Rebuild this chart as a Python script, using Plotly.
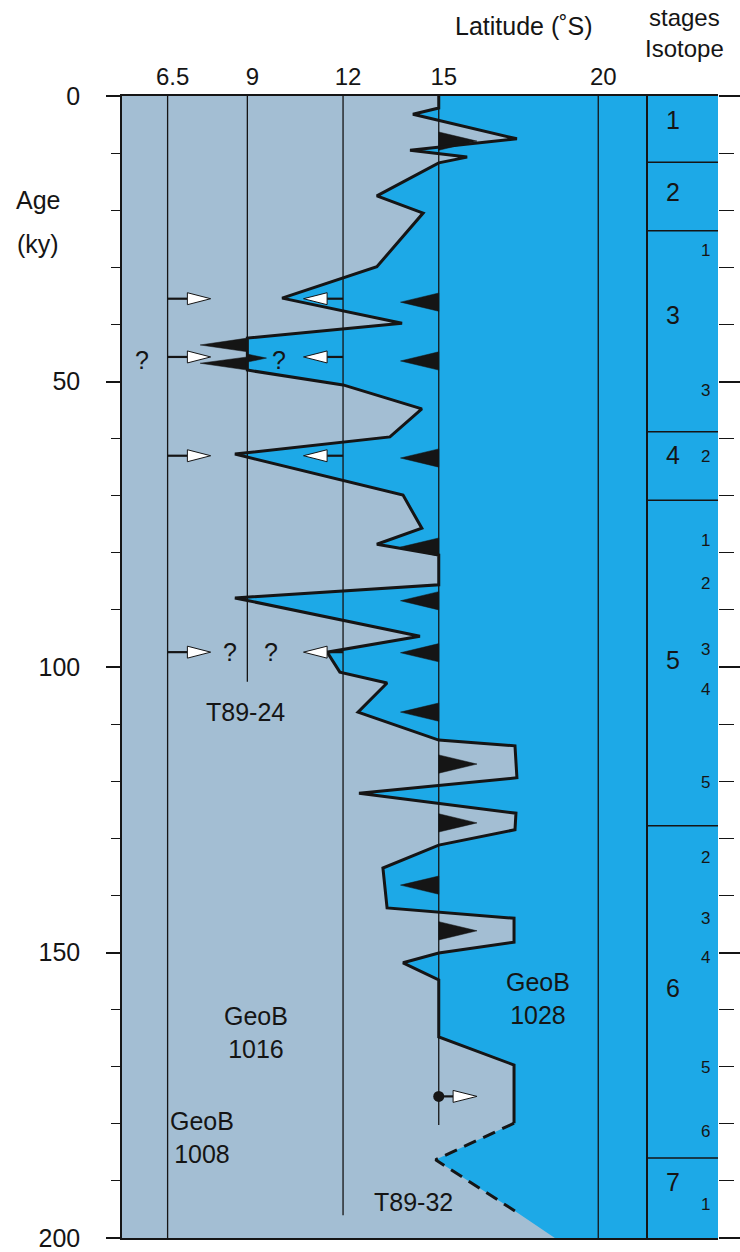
import plotly.graph_objects as go

W, H = 740, 1252

# ---------------- data ----------------
# Boundary between the light (GeoB 1008/1016) field and the blue (GeoB 1028) field
BOUNDARY_LAT = [15.0, 15.0, 14.19, 17.45, 14.10, 15.89, 15.0, 13.06, 14.51, 13.06, 10.09, 13.85,
                9.0, 9.0, 12.0, 14.47, 13.47, 8.61, 13.88, 14.47, 13.06, 15.0, 15.0, 8.61, 14.41,
                11.50, 11.90, 13.38, 12.47, 15.0, 17.39, 17.45, 12.50, 17.42, 17.39, 15.0, 13.25,
                13.38, 17.36, 17.36, 15.0, 13.88, 15.0, 15.0, 17.36, 17.36]
BOUNDARY_AGE = [0, 2.1, 3.2, 7.5, 9.5, 10.7, 11.7, 17.5, 20.5, 29.9, 35.4, 39.8,
                42.4, 48.0, 50.6, 54.8, 59.7, 62.7, 69.9, 75.7, 78.5, 80.4, 85.6, 87.9, 94.6,
                97.4, 100.9, 102.8, 107.9, 112.8, 113.8, 119.4, 122.1, 125.6, 128.5, 131.2, 135.2,
                142.2, 144.0, 148.2, 150.1, 151.8, 154.8, 164.8, 169.7, 179.9]
DASHED_LAT = [17.36, 14.9, 17.48]
DASHED_AGE = [179.9, 186.3, 195.6]
TAIL_LAT = [18.64]
TAIL_AGE = [200]

# core sites (vertical lines) and their lengths
SITE_LAT = [6.5, 9, 12, 15, 20]
SITE_END_AGE = [200, 102.6, 196.0, 180.2, 200]
LAT_TICKS = [6.5, 9, 12, 15, 20]
LAT_TICK_TEXT = ["6.5", "9", "12", "15", "20"]

# black triangles on the 15° line (+1 = pointing right, -1 = left)
BLACK_TRI_AGE = [7.9, 36.1, 46.4, 63.4, 79.0, 88.4, 97.5, 107.9, 117.0, 127.3, 138.2, 146.2]
BLACK_TRI_DIR = [1, -1, -1, -1, -1, -1, -1, -1, 1, 1, -1, 1]
# black wedges at the 9° line (T89-24): top, bottom, tip age, tip latitude
WEDGE_TOP = [42.4, 45.7, 45.2]
WEDGE_BOT = [44.8, 48.0, 46.6]
WEDGE_TIP_AGE = [43.6, 46.8, 45.9]
WEDGE_TIP_LAT = [7.52, 7.52, 9.6]

# white arrows
ARROW_AGE = [35.5, 45.7, 63.0, 97.4]
DOT_ARROW_AGE = [175.2]
QMARK_LAT = [5.7, 10.0, 8.45, 9.75]
QMARK_AGE = [46.2, 46.2, 97.4, 97.4]

AGE_TICKS = [0, 50, 100, 150, 200]
AGE_MINOR = list(range(0, 201, 10))

# isotope stages
STAGE_BOUNDS = [11.6, 23.6, 58.8, 70.8, 127.8, 186.0]
STAGE_LABELS = ["1", "2", "3", "4", "5", "6", "7"]
STAGE_LABEL_AGE = [4.2, 16.8, 38.4, 62.9, 98.8, 156.2, 190.2]
SUB_LABELS = ["1", "3", "2", "1", "2", "3", "4", "5", "2", "3", "4", "5", "6", "1"]
SUB_AGE = [27.0, 51.5, 63.2, 77.8, 85.3, 97.0, 104.0, 120.3, 133.3, 144.0, 150.8, 170.1, 181.4, 194.2]

# ---------------- layout geometry ----------------
PX_PER_LAT = 31.9
LAT_OFF = -39.75
LAT_MIN = (122 - LAT_OFF) / PX_PER_LAT
LAT_MAX = (646 - LAT_OFF) / PX_PER_LAT

LIGHT = "#A3BED3"
BLUE = "#1DA9E7"
INK = "#151515"
FONT = "Liberation Sans"

fig = go.Figure()

# blue field
fx = BOUNDARY_LAT + DASHED_LAT[1:] + TAIL_LAT + [LAT_MAX, LAT_MAX]
fy = BOUNDARY_AGE + DASHED_AGE[1:] + TAIL_AGE + [200, 0]
fig.add_trace(go.Scatter(x=fx, y=fy, fill="toself", fillcolor=BLUE, mode="none",
                         hoverinfo="skip"))

# site lines
sx, sy = [], []
for lat, end in zip(SITE_LAT, SITE_END_AGE):
    sx += [lat, lat, None]
    sy += [0, end, None]
fig.add_trace(go.Scatter(x=sx, y=sy, mode="lines", line=dict(color=INK, width=1.3),
                         hoverinfo="skip"))

# black triangles
HALF = 1.6
LEN = 1.2
tx, ty = [], []
for a, d in zip(BLACK_TRI_AGE, BLACK_TRI_DIR):
    tx += [15, 15 + d * LEN, 15, 15, None]
    ty += [a - HALF, a, a + HALF, a - HALF, None]
for t, b, ta, tl in zip(WEDGE_TOP, WEDGE_BOT, WEDGE_TIP_AGE, WEDGE_TIP_LAT):
    tx += [9, tl, 9, 9, None]
    ty += [t, ta, b, t, None]
fig.add_trace(go.Scatter(x=tx, y=ty, fill="toself", fillcolor=INK, mode="lines",
                         line=dict(color=INK, width=0.5), hoverinfo="skip"))

# boundary curve
fig.add_trace(go.Scatter(x=BOUNDARY_LAT, y=BOUNDARY_AGE, mode="lines",
                         line=dict(color=INK, width=3), hoverinfo="skip"))
fig.add_trace(go.Scatter(x=DASHED_LAT, y=DASHED_AGE, mode="lines",
                         line=dict(color=INK, width=3, dash="13px,8px"), hoverinfo="skip"))

# white arrows: stems and heads
AH = 1.05
stem_x, stem_y, head_x, head_y = [], [], [], []
for a in ARROW_AGE:
    stem_x += [6.5, 7.12, None, 12, 11.5, None]
    stem_y += [a, a, None, a, a, None]
    head_x += [7.12, 7.85, 7.12, 7.12, None, 11.5, 10.76, 11.5, 11.5, None]
    head_y += [a - AH, a, a + AH, a - AH, None, a - AH, a, a + AH, a - AH, None]
for a in DOT_ARROW_AGE:
    stem_x += [15, 15.45, None]
    stem_y += [a, a, None]
    head_x += [15.45, 16.2, 15.45, 15.45, None]
    head_y += [a - AH, a, a + AH, a - AH, None]
fig.add_trace(go.Scatter(x=stem_x, y=stem_y, mode="lines", line=dict(color=INK, width=2.2),
                         hoverinfo="skip"))
fig.add_trace(go.Scatter(x=head_x, y=head_y, fill="toself", fillcolor="white", mode="lines",
                         line=dict(color=INK, width=1), hoverinfo="skip"))
fig.add_trace(go.Scatter(x=[15] * len(DOT_ARROW_AGE), y=DOT_ARROW_AGE, mode="markers",
                         marker=dict(color=INK, size=11), hoverinfo="skip"))

# isotope stage column
bx, by = [], []
for b in STAGE_BOUNDS:
    bx += [0, 1, None]
    by += [b, b, None]
fig.add_trace(go.Scatter(x=bx, y=by, mode="lines", line=dict(color=INK, width=1.6),
                         xaxis="x2", yaxis="y2", hoverinfo="skip"))

ann = []


def add_text(text, x, y, xref, yref, size=25):
    ann.append(dict(x=x, y=y, xref=xref, yref=yref, text=text, showarrow=False,
                    xanchor="center", yanchor="middle", align="center",
                    font=dict(size=size, color=INK, family=FONT)))


for t, a in zip(STAGE_LABELS, STAGE_LABEL_AGE):
    add_text(t, 0.37, a, "x2", "y2", 25)
for t, a in zip(SUB_LABELS, SUB_AGE):
    add_text(t, 0.82, a, "x2", "y2", 17)
for lat, a in zip(QMARK_LAT, QMARK_AGE):
    add_text("?", lat, a, "x", "y", 25)

LABELS = [("T89-24", 8.93, 107.9), ("GeoB<br>1016", 9.28, 164.0),
          ("GeoB<br>1008", 7.58, 182.4), ("GeoB<br>1028", 18.12, 158.1),
          ("T89-32", 14.22, 193.7)]
for t, lat, a in LABELS:
    add_text(t, lat, a, "x", "y", 25)

for t, px, py, sz in [("Latitude (˚S)", 524, 26, 25), ("stages<br>Isotope", 684, 33, 24),
                      ("Age", 38, 200, 25), ("(ky)", 38, 244, 25)]:
    add_text(t, px / W, 1 - py / H, "paper", "paper", sz)

YDOM = [1 - 1238 / H, 1 - 96 / H]
axis_common = dict(showgrid=False, zeroline=False, linecolor=INK, linewidth=1.5,
                   automargin=False)

fig.update_layout(
    width=W, height=H, margin=dict(l=0, r=0, t=0, b=0, autoexpand=False),
    paper_bgcolor="white", plot_bgcolor=LIGHT, showlegend=False,
    font=dict(family=FONT, size=25, color=INK),
    annotations=ann,
    shapes=[dict(type="rect", xref="x2 domain", yref="y2 domain", x0=0, x1=1, y0=0, y1=1,
                 fillcolor=BLUE, line=dict(width=0), layer="below")],
    xaxis=dict(domain=[122 / W, 646 / W], range=[LAT_MIN, LAT_MAX], side="top",
               tickmode="array", tickvals=LAT_TICKS, ticktext=LAT_TICK_TEXT, ticks="",
               tickfont=dict(size=24, color=INK, family=FONT), ticklabelstandoff=0,
               ticklabelshift=5, anchor="y", showline=True, mirror=True, **axis_common),
    yaxis=dict(domain=YDOM, range=[200, 0], tickmode="array", tickvals=AGE_TICKS,
               ticks="outside", ticklen=14, tickwidth=1.5, tickcolor=INK,
               minor=dict(tickmode="array", tickvals=AGE_MINOR, ticks="outside", ticklen=9,
                          tickwidth=1.3, tickcolor=INK, showgrid=False),
               tickfont=dict(size=25, color=INK, family=FONT), ticklabelstandoff=21,
               anchor="x", showline=True, mirror=True, **axis_common),
    xaxis2=dict(domain=[646 / W, 718 / W], range=[0, 1], side="top", showticklabels=False,
                ticks="", anchor="y2", showline=True, mirror=True, **axis_common),
    yaxis2=dict(domain=YDOM, range=[200, 0], side="right", tickmode="array",
                tickvals=AGE_TICKS, ticks="outside", ticklen=22, tickwidth=1.5, tickcolor=INK,
                minor=dict(tickmode="array", tickvals=AGE_MINOR, ticks="outside", ticklen=15,
                           tickwidth=1.3, tickcolor=INK, showgrid=False),
                showticklabels=False, anchor="x2", showline=False, **axis_common),
)

fig.write_html("out.html")
